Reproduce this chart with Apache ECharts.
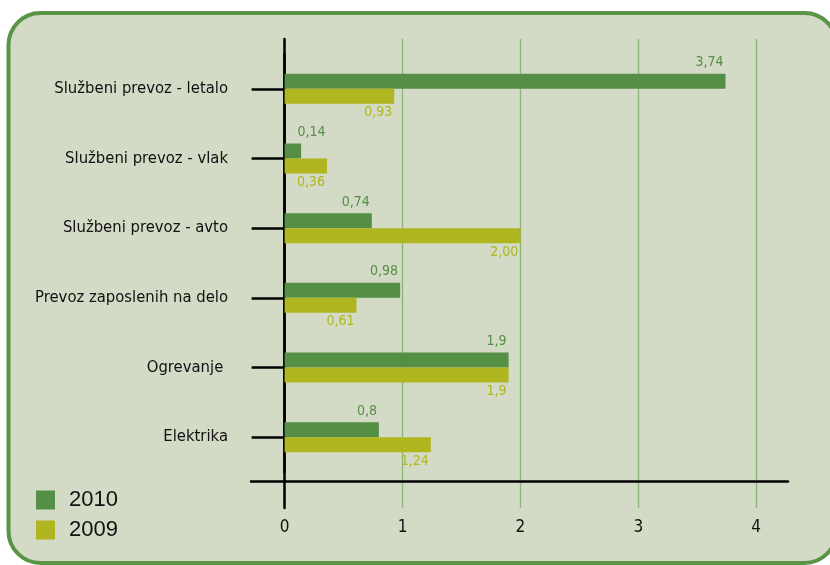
<!DOCTYPE html>
<html>
<head>
<meta charset="utf-8">
<script src="https://cdn.jsdelivr.net/npm/echarts@6/dist/echarts.min.js"></script>
<style>
html,body{margin:0;padding:0;background:#ffffff;}
#chart{width:830px;height:565px;}
</style>
</head>
<body>
<div id="chart"></div>
<script>
const categories = ['Službeni prevoz - letalo','Službeni prevoz - vlak','Službeni prevoz - avto','Prevoz zaposlenih na delo','Ogrevanje ','Elektrika'];
const values2010 = [3.74, 0.14, 0.74, 0.98, 1.9, 0.8];
const values2009 = [0.93, 0.36, 2.00, 0.61, 1.9, 1.24];
const labels2010 = ['3,74','0,14','0,74','0,98','1,9','0,8'];
const labels2009 = ['0,93','0,36','2,00','0,61','1,9','1,24'];
const seriesNames = ['2010','2009'];

const NARROW = "'DejaVu Sans Condensed','Liberation Sans',sans-serif";
const C2010 = '#558f46';
const C2009 = '#afb61f';
const XMIN = -0.285, XMAX = 4.27;

// very short bars: label starts just right of the axis instead of ending at the bar tip
function items(values, top) {
  return values.map(v => v < 0.3
    ? {value: v, label: {position: top ? ['0%', 0] : ['0%', '100%'], align: 'left', offset: [13, top ? -4 : 2]}}
    : v);
}

const chart = echarts.init(document.getElementById('chart'));
chart.setOption({
  animation: false,
  graphic: [{
    type: 'rect', z: -10, silent: true,
    shape: {x: 8.5, y: 13, width: 828, height: 550, r: 32},
    style: {fill: '#d3dac5', stroke: '#5a9447', lineWidth: 4}
  }],
  legend: {
    data: seriesNames,
    orient: 'vertical',
    left: 36, top: 489, padding: 0,
    itemWidth: 19, itemHeight: 19, itemGap: 8,
    icon: 'rect',
    textStyle: {fontSize: 22, color: '#111', fontFamily: "'Liberation Sans',sans-serif", padding: [0,0,0,9]}
  },
  grid: [
    {left: 251, right: 42, top: 54, bottom: 93, outerBoundsMode: 'none', containLabel: false},
    {left: 251, right: 42, top: 39, bottom: 57, outerBoundsMode: 'none', containLabel: false}
  ],
  xAxis: [
    {
      gridIndex: 0, type: 'value', min: XMIN, max: XMAX,
      offset: 9,
      axisLine: {show: true, lineStyle: {color: '#000', width: 2.5}},
      axisTick: {show: false}, axisLabel: {show: false}, splitLine: {show: false}
    },
    {
      gridIndex: 1, type: 'value', min: XMIN, max: XMAX,
      axisLine: {show: false},
      axisTick: {show: false},
      axisLabel: {
        showMinLabel: false, showMaxLabel: false, margin: 11,
        fontSize: 17, color: '#111', fontFamily: NARROW,
        formatter: v => Number.isInteger(v) ? String(v) : ''
      },
      splitLine: {show: true, showMinLine: false, showMaxLine: false, lineStyle: {color: '#8db77a', width: 1.3}}
    }
  ],
  yAxis: [
    {
      gridIndex: 0, type: 'category', inverse: true, data: categories,
      axisLine: {show: true, onZero: true, lineStyle: {color: '#000', width: 2.5}},
      axisTick: {show: true, alignWithLabel: true, length: 33, lineStyle: {color: '#000', width: 2.5}},
      axisLabel: {margin: 23, fontSize: 16.5, color: '#111', fontFamily: NARROW}
    },
    {
      gridIndex: 1, type: 'category', inverse: true, data: categories,
      axisLine: {show: true, onZero: true, lineStyle: {color: '#000', width: 2.5}},
      axisTick: {show: false}, axisLabel: {show: false}
    }
  ],
  series: [
    {
      name: seriesNames[0], type: 'bar', xAxisIndex: 0, yAxisIndex: 0,
      data: items(values2010, true), barWidth: 15, barGap: '0%',
      itemStyle: {color: C2010},
      label: {
        show: true, position: ['100%', 0], align: 'right', verticalAlign: 'bottom',
        offset: [-2, -4], fontSize: 14, color: C2010, fontFamily: NARROW,
        formatter: p => labels2010[p.dataIndex]
      }
    },
    {
      name: seriesNames[1], type: 'bar', xAxisIndex: 0, yAxisIndex: 0,
      data: items(values2009, false), barWidth: 15, barGap: '0%',
      itemStyle: {color: C2009},
      label: {
        show: true, position: ['100%', '100%'], align: 'right', verticalAlign: 'top',
        offset: [-2, 2], fontSize: 14, color: C2009, fontFamily: NARROW,
        formatter: p => labels2009[p.dataIndex]
      }
    }
  ]
});
</script>
</body>
</html>
